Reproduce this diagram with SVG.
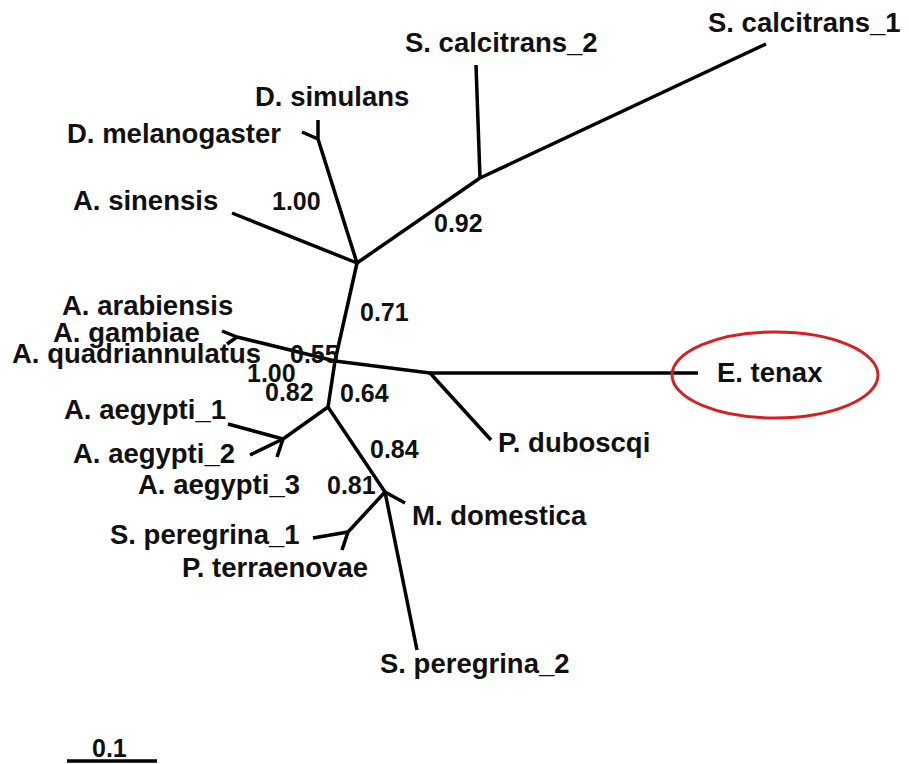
<svg xmlns="http://www.w3.org/2000/svg" width="909" height="764" viewBox="0 0 909 764">
<style>
  .br { stroke: #000; stroke-width: 3.5; fill: none; stroke-linejoin: round; }
  .lab { font-family: "Liberation Sans", Arial, sans-serif; font-weight: bold; font-size: 27.5px; fill: #111; }
  .num { font-family: "Liberation Sans", Arial, sans-serif; font-weight: bold; font-size: 25px; fill: #111; }
  .hl { fill: none; stroke: #d42222; stroke-width: 3; }
</style>
<rect width="909" height="764" fill="#fff"/>
<g id="connectors">
  <line class="br" x1="357" y1="263" x2="232" y2="213"/>
  <line class="br" x1="357" y1="263" x2="318" y2="139"/>
  <line class="br" x1="318" y1="139" x2="318" y2="120"/>
  <line class="br" x1="318" y1="139" x2="302" y2="132"/>
  <line class="br" x1="357" y1="263" x2="480" y2="178"/>
  <line class="br" x1="480" y1="178" x2="476" y2="65"/>
  <line class="br" x1="480" y1="178" x2="766" y2="44"/>
  <line class="br" x1="357" y1="263" x2="335" y2="361"/>
  <line class="br" x1="335" y1="361" x2="237" y2="337"/>
  <line class="br" x1="237" y1="337" x2="222" y2="331"/>
  <line class="br" x1="237" y1="337" x2="227" y2="344"/>
  <line class="br" x1="335" y1="361" x2="430" y2="373"/>
  <line class="br" x1="430" y1="373" x2="698" y2="373"/>
  <line class="br" x1="430" y1="373" x2="491" y2="440"/>
  <line class="br" x1="335" y1="361" x2="328" y2="407"/>
  <line class="br" x1="328" y1="407" x2="283" y2="439"/>
  <line class="br" x1="283" y1="439" x2="228" y2="424"/>
  <line class="br" x1="283" y1="439" x2="250" y2="455"/>
  <line class="br" x1="283" y1="439" x2="277" y2="457"/>
  <line class="br" x1="328" y1="407" x2="385" y2="492"/>
  <line class="br" x1="385" y1="492" x2="405" y2="503"/>
  <line class="br" x1="385" y1="492" x2="417" y2="650"/>
  <line class="br" x1="385" y1="492" x2="348" y2="532"/>
  <line class="br" x1="348" y1="532" x2="313" y2="538"/>
  <line class="br" x1="348" y1="532" x2="342" y2="550"/>
</g>
<g id="support-values">
  <text class="num" x="272" y="210">1.00</text>
  <text class="num" x="434" y="232">0.92</text>
  <text class="num" x="360" y="321">0.71</text>
  <text class="num" x="290" y="363">0.55</text>
  <text class="num" x="247" y="382">1.00</text>
  <text class="num" x="265" y="401">0.82</text>
  <text class="num" x="340" y="402">0.64</text>
  <text class="num" x="370" y="458">0.84</text>
  <text class="num" x="327" y="494">0.81</text>
</g>
<g id="s-calcitrans-1"><text class="lab" x="708" y="32">S. calcitrans_1</text></g>
<g id="s-calcitrans-2"><text class="lab" x="405" y="52">S. calcitrans_2</text></g>
<g id="d-simulans"><text class="lab" x="255" y="106">D. simulans</text></g>
<g id="d-melanogaster"><text class="lab" x="67" y="143">D. melanogaster</text></g>
<g id="a-sinensis"><text class="lab" x="73" y="210">A. sinensis</text></g>
<g id="a-arabiensis"><text class="lab" x="62" y="315">A. arabiensis</text></g>
<g id="a-gambiae"><text class="lab" x="53" y="342">A. gambiae</text></g>
<g id="a-quadriannulatus"><text class="lab" x="12" y="363">A. quadriannulatus</text></g>
<g id="a-aegypti-1"><text class="lab" x="64" y="419">A. aegypti_1</text></g>
<g id="a-aegypti-2"><text class="lab" x="73" y="463">A. aegypti_2</text></g>
<g id="a-aegypti-3"><text class="lab" x="138" y="494">A. aegypti_3</text></g>
<g id="s-peregrina-1"><text class="lab" x="110" y="544">S. peregrina_1</text></g>
<g id="p-terraenovae"><text class="lab" x="182" y="577">P. terraenovae</text></g>
<g id="m-domestica"><text class="lab" x="412" y="525">M. domestica</text></g>
<g id="s-peregrina-2"><text class="lab" x="380" y="673">S. peregrina_2</text></g>
<g id="p-duboscqi"><text class="lab" x="498" y="452">P. duboscqi</text></g>
<g id="e-tenax">
  <ellipse class="hl" cx="775" cy="375" rx="103" ry="43"/>
  <text class="lab" x="717" y="382">E. tenax</text>
</g>
<g id="scale-bar">
  <line class="br" x1="67" y1="761" x2="157" y2="761"/>
  <text class="num" x="92" y="757">0.1</text>
</g>
</svg>
